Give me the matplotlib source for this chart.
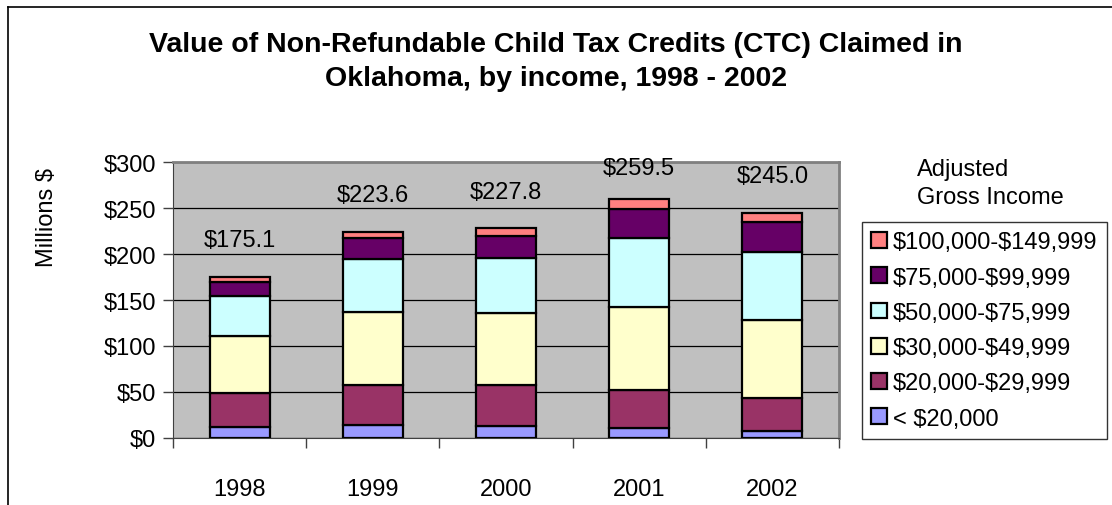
import numpy as np
import matplotlib.pyplot as plt
from matplotlib.lines import Line2D
from matplotlib.patches import Patch

plt.rcParams['font.family'] = 'Liberation Sans'
plt.rcParams['text.parse_math'] = False

years = ['1998', '1999', '2000', '2001', '2002']
income_groups = ['< $20,000', '$20,000-$29,999', '$30,000-$49,999',
                 '$50,000-$75,999', '$75,000-$99,999', '$100,000-$149,999']
under_20k = [12.5, 14.2, 13.5, 10.9, 7.3]
inc_20_30k = [36.0, 43.6, 43.6, 41.8, 36.3]
inc_30_50k = [62.5, 79.7, 78.9, 90.2, 84.8]
inc_50_76k = [43.5, 57.5, 60.0, 74.1, 74.1]
inc_75_100k = [15.5, 22.0, 24.0, 31.4, 32.0]
inc_100_150k = [5.1, 6.6, 7.8, 11.1, 10.5]
totals = [175.1, 223.6, 227.8, 259.5, 245.0]

series = [under_20k, inc_20_30k, inc_30_50k, inc_50_76k, inc_75_100k, inc_100_150k]
colors = ['#9999FF', '#993366', '#FFFFCC', '#CCFFFF', '#660066', '#FF8080']

fig = plt.figure(figsize=(11.12, 5.06), dpi=100)
W, H = 1112, 506
ax = fig.add_axes([173 / W, 1 - 439 / H, (839 - 173) / W, (439 - 163) / H])
ax.set_facecolor('#C0C0C0')

x = np.arange(len(years))
bottom = np.zeros(len(years))
for vals, c, name in zip(series, colors, income_groups):
    ax.bar(x, vals, 0.45, bottom=bottom, color=c, edgecolor='black', linewidth=1.6, label=name, zorder=3)
    bottom += np.array(vals)

for xi, t in zip(x, totals):
    ax.text(xi, min(t + 40, 294), f'${t:.1f}', ha='center', va='center', fontsize=17)

ax.set_xlim(-0.5, len(years) - 0.5)
ax.set_ylim(0, 300)
ax.set_yticks(np.arange(0, 301, 50))
ax.set_yticklabels([f'${v}' for v in range(0, 301, 50)], fontsize=17)
ax.yaxis.grid(True, color='black', linewidth=0.9)
ax.set_axisbelow(True)
ax.tick_params(axis='y', length=7, width=1, color='#404040', pad=5)

ax.set_xticks(x)
ax.set_xticklabels(years, fontsize=17)
ax.set_xticks(np.arange(-0.5, len(years)), minor=True)
ax.tick_params(axis='x', which='major', length=0, pad=29)
ax.tick_params(axis='x', which='minor', length=7, width=1, color='#404040')

ax.spines['left'].set_color('#404040')
ax.spines['bottom'].set_color('#404040')
ax.spines['top'].set_color('#808080')
ax.spines['right'].set_color('#808080')
ax.spines['top'].set_linewidth(2)
ax.spines['right'].set_linewidth(2)

fig.text(47 / W, 1 - 218 / H, 'Millions $', rotation=90, ha='center', va='center', fontsize=17)

fig.text(556 / W, 1 - 62 / H,
         'Value of Non-Refundable Child Tax Credits (CTC) Claimed in\nOklahoma, by income, 1998 - 2002',
         ha='center', va='center', fontsize=20.5, fontweight='bold', linespacing=1.4)

fig.text(917 / W, 1 - 184 / H, 'Adjusted\nGross Income', ha='left', va='center', fontsize=17, linespacing=1.3)

handles = [Patch(facecolor=c, edgecolor='black', linewidth=1.6) for c in colors][::-1]
leg = fig.legend(handles, income_groups[::-1], loc='upper left', bbox_to_anchor=(862 / W, 1 - 223 / H),
                 fontsize=17, frameon=True, fancybox=False, borderaxespad=0, handlelength=0.65,
                 handleheight=0.65, handletextpad=0.25, labelspacing=0.56, borderpad=0.4)
leg.get_frame().set_edgecolor('black')
leg.get_frame().set_linewidth(1)

fig.add_artist(Line2D([8 / W, 1], [1 - 8 / H, 1 - 8 / H], color='black', linewidth=1.2))
fig.add_artist(Line2D([8 / W, 8 / W], [0, 1 - 8 / H], color='black', linewidth=1.2))

fig.savefig('out.png', dpi=100)
